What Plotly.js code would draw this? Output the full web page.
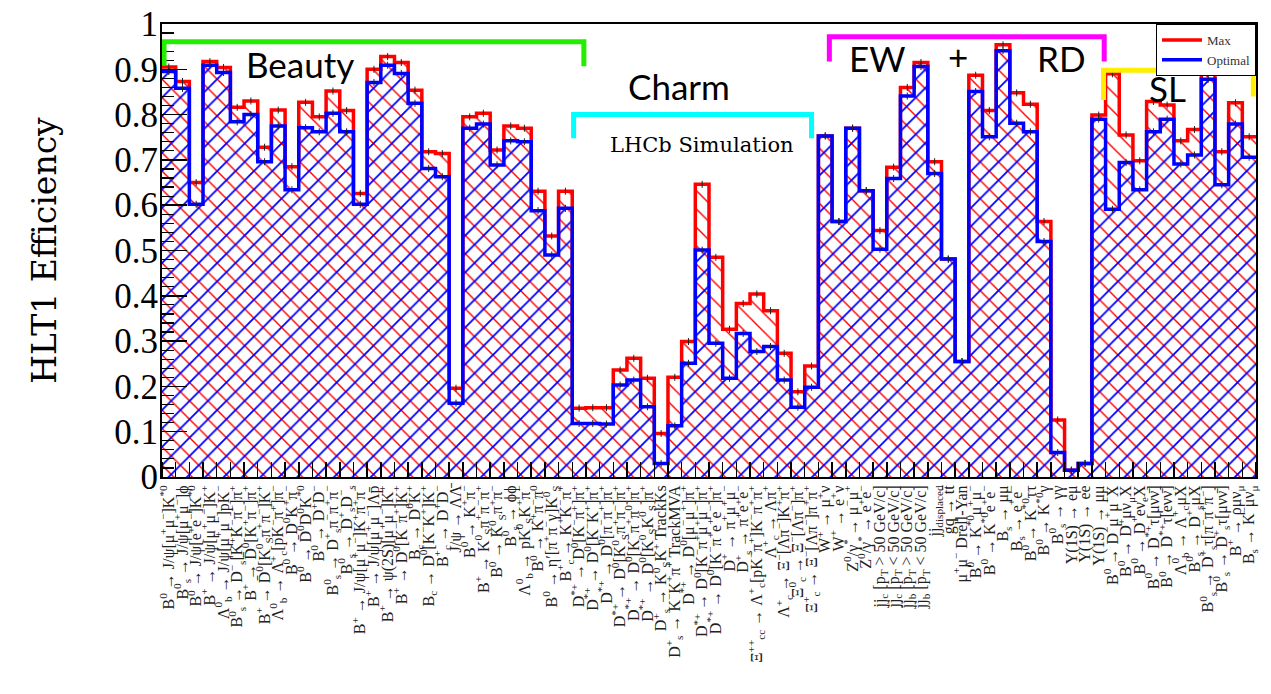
<!DOCTYPE html>
<html><head><meta charset="utf-8">
<script src="https://cdn.plot.ly/plotly-3.0.1.min.js"></script>
<style>html,body{margin:0;padding:0;background:#fff}#chart{width:1271px;height:694px}</style>
</head><body><div id="chart"></div>
<script>
// ---- data ----
const modes = [
 "B<sup>0</sup> → J/ψ[μ<sup>+</sup>μ<sup>−</sup>]K<sup>*0</sup>",
 "B<sup>0</sup><sub>s</sub> → J/ψ[μ<sup>+</sup>μ<sup>−</sup>]ϕ",
 "B<sup>0</sup> → J/ψ[e<sup>+</sup>e<sup>−</sup>]K<sup>*0</sup>",
 "B<sup>+</sup> → J/ψ[μ<sup>+</sup>μ<sup>−</sup>]K<sup>+</sup>",
 "Λ<sup>0</sup><sub>b</sub> → J/ψ[μ<sup>+</sup>μ<sup>−</sup>]pK<sup>−</sup>",
 "B<sup>0</sup><sub>s</sub> → D<sup>−</sup><sub>s</sub>[K<sup>+</sup>K<sup>−</sup>π<sup>−</sup>]π<sup>+</sup>",
 "B<sup>+</sup> → D̄<sup>0</sup>[K<sup>+</sup>π<sup>−</sup>]π<sup>+</sup>",
 "B<sup>+</sup> → D̄<sup>0</sup>[K<sup>0</sup><sub>S</sub>π<sup>+</sup>π<sup>−</sup>]K<sup>+</sup>",
 "Λ<sup>0</sup><sub>b</sub> → Λ<sup>+</sup><sub>c</sub>[pK<sup>−</sup>π<sup>+</sup>]π<sup>−</sup>",
 "B<sup>0</sup> → D<sup>0</sup>K<sup>+</sup>π<sup>−</sup>",
 "B<sup>0</sup> → D̄<sup>0</sup>D<sup>0</sup>K<sup>*0</sup>",
 "B<sup>0</sup> → D<sup>+</sup>D<sup>−</sup>",
 "B<sup>0</sup><sub>s</sub> → D<sup>+</sup><sub>s</sub>π<sup>−</sup>π<sup>+</sup>π<sup>−</sup>",
 "B<sup>0</sup><sub>s</sub> → D<sup>+</sup><sub>s</sub>D<sup>−</sup><sub>s</sub>",
 "B<sup>+</sup> → J/ψ[μ<sup>+</sup>μ<sup>−</sup>]K<sup>+</sup>π<sup>+</sup>π<sup>−</sup>",
 "B<sup>+</sup> → J/ψ[μ<sup>+</sup>μ<sup>−</sup>]Λp̄",
 "B<sup>+</sup> → ψ(2S)[μ<sup>+</sup>μ<sup>−</sup>]K<sup>+</sup>",
 "B<sup>+</sup> → D<sup>0</sup>[K<sup>−</sup>π<sup>+</sup>]K<sup>+</sup>",
 "B<sub>c</sub> → D<sup>0</sup>K<sup>+</sup>",
 "B<sub>c</sub> → D<sup>0</sup>[K<sup>−</sup>K<sup>+</sup>]K<sup>+</sup>",
 "B<sup>+</sup><sub>c</sub> → D<sup>+</sup>D<sup>−</sup>",
 "J/ψ → ΛΛ̄",
 "B<sup>0</sup> → K<sup>+</sup>π<sup>−</sup>",
 "B<sup>+</sup> → K<sup>0</sup><sub>S</sub>π<sup>+</sup>π<sup>−</sup>π<sup>+</sup>",
 "B<sup>0</sup> → K<sup>0</sup><sub>S</sub>π<sup>+</sup>π<sup>−</sup>",
 "B<sup>0</sup><sub>s</sub> → ϕϕ",
 "Λ<sup>0</sup><sub>b</sub> → pK<sup>0</sup><sub>S</sub>K<sup>+</sup>π<sup>−</sup>",
 "B<sup>0</sup> → K<sup>+</sup>π<sup>−</sup>π<sup>0</sup>",
 "B<sup>0</sup> → η′[π<sup>+</sup>π<sup>−</sup>γ]K<sup>0</sup><sub>S</sub>",
 "B<sup>+</sup><sub>c</sub> → K<sup>+</sup>K<sup>−</sup>π<sup>+</sup>",
 "D<sup>*+</sup> → D<sup>0</sup>[K<sup>−</sup>π<sup>+</sup>]π<sup>+</sup>",
 "D<sup>*+</sup> → D<sup>0</sup>[K<sup>−</sup>K<sup>+</sup>]π<sup>+</sup>",
 "D<sup>*+</sup> → D<sup>0</sup>[π<sup>−</sup>π<sup>+</sup>]π<sup>+</sup>",
 "D<sup>*+</sup> → D<sup>0</sup>[K<sup>0</sup><sub>S</sub>π<sup>+</sup>π<sup>−</sup>]π<sup>+</sup>",
 "D<sup>*+</sup> → D<sup>0</sup>[K<sup>−</sup>π<sup>+</sup>π<sup>0</sup>]π<sup>+</sup>",
 "D<sup>*+</sup> → D<sup>0</sup>[K<sup>0</sup><sub>S</sub>K<sup>0</sup><sub>S</sub>]π<sup>+</sup>",
 "D<sup>+</sup><sub>s</sub> → K<sup>0</sup><sub>S</sub>K<sup>+</sup> TrackKs",
 "D<sup>+</sup><sub>s</sub> → K<sup>−</sup>K<sup>+</sup>π<sup>+</sup> TrackMVA",
 "D<sup>*+</sup> → D<sup>0</sup>[μ<sup>−</sup>μ<sup>+</sup>]π<sup>+</sup>",
 "D<sup>*+</sup> → D<sup>0</sup>[K<sup>−</sup>π<sup>+</sup>μ<sup>+</sup>μ<sup>−</sup>]π<sup>+</sup>",
 "D<sup>*+</sup> → D<sup>0</sup>[K<sup>−</sup>π<sup>+</sup>e<sup>+</sup>e<sup>−</sup>]π<sup>+</sup>",
 "D<sup>+</sup> → π<sup>+</sup>μ<sup>+</sup>μ<sup>−</sup>",
 "D<sup>+</sup><sub>s</sub> → π<sup>+</sup>e<sup>+</sup>e<sup>−</sup>",
 "Ξ<sup>++</sup><sub>cc</sub> → Λ<sup>+</sup><sub>c</sub>[pK<sup>−</sup>π<sup>+</sup>]K<sup>−</sup>π<sup>+</sup>π<sup>+</sup>",
 "Λ<sup>+</sup><sub>c</sub> → Λπ<sup>+</sup>",
 "Λ<sup>+</sup><sub>c</sub> → Ξ<sup>−</sup>[Λπ<sup>−</sup>]K<sup>+</sup>π<sup>+</sup>",
 "Ξ<sup>0</sup><sub>c</sub> → Ξ<sup>−</sup>[Λπ<sup>−</sup>]π<sup>+</sup>",
 "Ξ<sup>+</sup><sub>c</sub> → Ξ<sup>−</sup>[Λπ<sup>−</sup>]π<sup>+</sup>π<sup>+</sup>",
 "W<sup>+</sup> → μ<sup>+</sup>ν",
 "W<sup>+</sup> → e<sup>+</sup>ν",
 "Z<sup>0</sup>/γ<sup>*</sup> → μ<sup>−</sup>μ<sup>+</sup>",
 "Z<sup>0</sup>/γ<sup>*</sup> → e<sup>+</sup>e<sup>−</sup>",
 "jj<sub>c</sub> [p<sub>T</sub> > 50 GeV/c]",
 "jj<sub>c</sub> [p<sub>T</sub> < 50 GeV/c]",
 "jj<sub>b</sub> [p<sub>T</sub> > 50 GeV/c]",
 "jj<sub>b</sub> [p<sub>T</sub> < 50 GeV/c]",
 "jj<sub>displaced</sub>",
 "gq → tt̄",
 "μ<sup>+</sup>μ<sup>−</sup> Drell-Yan",
 "B<sup>0</sup> → K<sup>*0</sup>μ<sup>+</sup>μ<sup>−</sup>",
 "B<sup>0</sup> → K<sup>*0</sup>e<sup>+</sup>e<sup>−</sup>",
 "B<sub>s</sub> → μμ",
 "B<sub>s</sub> → e<sup>+</sup>e<sup>−</sup>",
 "B<sup>0</sup> → K<sup>*0</sup>ττ",
 "B<sup>0</sup> → K<sup>*0</sup>γ",
 "B<sup>0</sup><sub>s</sub> → γγ",
 "Υ(1S) → eμ",
 "Υ(1S) → ee",
 "Υ(1S) → μμ",
 "B<sup>0</sup> → D<sup>−</sup>μ<sup>+</sup>μ<sup>−</sup>X",
 "B<sup>0</sup> → D<sup>+</sup>μν<sub>μ</sub>X",
 "B<sup>0</sup> → D<sup>+</sup>eν<sub>e</sub>X",
 "B<sup>0</sup> → D<sup>*+</sup>τ[μνν̄]",
 "B<sup>0</sup> → D<sup>*+</sup>τ[eνν̄]",
 "Λ<sup>0</sup><sub>b</sub> → Λ<sup>+</sup><sub>c</sub>μX",
 "B<sup>0</sup><sub>s</sub> → D<sup>+</sup><sub>s</sub>μX",
 "B<sup>0</sup><sub>s</sub> → D<sup>+</sup><sub>s</sub>τ[π<sup>−</sup>π<sup>+</sup>π<sup>−</sup>]",
 "B<sup>0</sup><sub>s</sub> → D<sup>+</sup><sub>s</sub>τ[μνν̄]",
 "B<sup>+</sup> → ρμν<sub>μ</sub>",
 "B<sub>s</sub> → K<sup>−</sup>μν<sub>μ</sub>"
];
const maxEff = [0.905,0.873,0.650,0.917,0.904,0.816,0.830,0.728,0.810,0.685,
 0.827,0.795,0.852,0.809,0.626,0.900,0.928,0.915,0.854,0.718,
 0.714,0.196,0.795,0.803,0.722,0.775,0.770,0.631,0.532,0.631,
 0.152,0.153,0.153,0.236,0.262,0.218,0.096,0.220,0.299,0.646,
 0.485,0.326,0.383,0.404,0.367,0.273,0.188,0.245,0.753,0.564,
 0.770,0.632,0.544,0.684,0.860,0.915,0.696,0.481,0.255,0.887,
 0.809,0.954,0.848,0.823,0.564,0.126,0.015,0.030,0.799,0.890,
 0.755,0.698,0.829,0.821,0.742,0.767,0.906,0.718,0.826,0.751];
const optEff = [0.895,0.858,0.602,0.909,0.893,0.784,0.800,0.696,0.775,0.634,
 0.771,0.762,0.803,0.762,0.602,0.871,0.909,0.891,0.825,0.681,
 0.663,0.163,0.770,0.779,0.689,0.742,0.740,0.588,0.490,0.593,
 0.118,0.118,0.117,0.203,0.214,0.155,0.030,0.113,0.251,0.501,
 0.295,0.218,0.317,0.277,0.288,0.214,0.154,0.198,0.753,0.564,
 0.770,0.632,0.503,0.659,0.841,0.906,0.670,0.481,0.255,0.851,
 0.751,0.941,0.781,0.762,0.520,0.054,0.015,0.030,0.790,0.591,
 0.694,0.634,0.762,0.790,0.691,0.711,0.878,0.645,0.779,0.706];
const seriesNames = ["Max", "Optimal"];
const groupNames = ["Beauty", "Charm", "EW", "+", "RD", "SL", "LHCb Simulation"];

// ---- derived ----
const centers = modes.map((_, i) => i + 0.5);
const edges = modes.map((_, i) => i).concat([modes.length]);
const stepY = arr => arr.concat([arr[arr.length - 1]]);

const RED = '#ff0000', BLUE = '#0000ff';
const serif = 'Liberation Serif, DejaVu Serif, serif';
const wideSerif = 'DejaVu Serif, Liberation Serif, serif';
const sans = 'Lato, Open Sans, sans-serif';

const traces = [
  {type:'bar', x:centers, y:maxEff, width:1, showlegend:false, hoverinfo:'skip',
   marker:{color:'rgba(0,0,0,0)', line:{width:0},
     pattern:{shape:'\\', fgcolor:RED, bgcolor:'rgba(0,0,0,0)', size:13, solidity:0.11, fillmode:'replace'}}},
  {type:'bar', x:centers, y:optEff, width:1, showlegend:false, hoverinfo:'skip',
   marker:{color:'rgba(0,0,0,0)', line:{width:0},
     pattern:{shape:'/', fgcolor:BLUE, bgcolor:'rgba(0,0,0,0)', size:13, solidity:0.14, fillmode:'replace'}}},
  {type:'scatter', mode:'lines', name:seriesNames[0], x:edges, y:stepY(maxEff),
   line:{shape:'hv', color:RED, width:3.5}},
  {type:'scatter', mode:'lines', name:seriesNames[1], x:edges, y:stepY(optEff),
   line:{shape:'hv', color:BLUE, width:3.5}},
  {type:'scatter', mode:'markers', x:centers, y:maxEff, showlegend:false, hoverinfo:'skip',
   marker:{symbol:'line-ns', size:5, line:{color:'#222', width:1}}},
  {type:'scatter', mode:'markers', x:centers, y:optEff, showlegend:false, hoverinfo:'skip',
   marker:{symbol:'line-ns', size:5, line:{color:'#222', width:1}}}
];

function bracket(x0, x1, y, yl, yr, color) {
  return {type:'path', xref:'x', yref:'y', layer:'above',
    path:`M${x0},${yl} L${x0},${y} L${x1},${y} L${x1},${yr}`,
    line:{color:color, width:5}};
}

const layout = {
  width:1271, height:694,
  margin:{l:162, r:15, t:24, b:217},
  paper_bgcolor:'#fff', plot_bgcolor:'#fff',
  barmode:'overlay', bargap:0,
  showlegend:true,
  legend:{x:1, y:1, xanchor:'right', yanchor:'top', bgcolor:'#fff',
    bordercolor:'#000', borderwidth:1, font:{family:serif, size:13, color:'#333'},
    itemwidth:40, tracegroupgap:0},
  xaxis:{range:[0, modes.length], tickmode:'array', tickvals:centers, ticktext:modes,
    tickangle:-90, ticks:'', tickfont:{family:serif, size:16, color:'#222'},
    showgrid:false, zeroline:false, showline:true, linecolor:'#000', linewidth:2, mirror:true,
    minor:{ticks:'inside', ticklen:15, tickwidth:1.5, tickcolor:'#000', tick0:0, dtick:1, showgrid:false},
    automargin:false, fixedrange:true},
  yaxis:{range:[0,1], tick0:0, dtick:0.1, ticks:'inside', ticklen:25, tickwidth:1.5, tickcolor:'#000',
    tickfont:{family:serif, size:35, color:'#000'}, ticklabelstandoff:-5,
    minor:{ticks:'inside', ticklen:12, tickwidth:1.2, tickcolor:'#000', dtick:0.02, showgrid:false},
    showgrid:false, zeroline:false, showline:true, linecolor:'#000', linewidth:2, mirror:true,
    title:{text:'HLT1 Efficiency', font:{family:wideSerif, size:33, color:'#000'}, standoff:48},
    automargin:false, fixedrange:true},
  shapes:[
    bracket(0.15, 30.85, 0.961, 0.909, 0.907, '#22ee00'),
    bracket(30.1, 47.5, 0.800, 0.748, 0.748, '#00ffff'),
    bracket(48.8, 68.9, 0.972, 0.917, 0.917, '#ff00ff'),
    bracket(68.85, 79.8, 0.898, 0.832, 0.840, '#ffee00')
  ],
  annotations:[
    {text:groupNames[0], x:10.1, y:0.912, font:{family:sans, size:35, color:'#000'}},
    {text:groupNames[1], x:37.8, y:0.863, font:{family:sans, size:35, color:'#000'}},
    {text:groupNames[2], x:52.3, y:0.925, font:{family:sans, size:35, color:'#000'}},
    {text:groupNames[3], x:58.2, y:0.930, font:{family:sans, size:35, color:'#000'}},
    {text:groupNames[4], x:65.8, y:0.925, font:{family:sans, size:35, color:'#000'}},
    {text:groupNames[5], x:73.5, y:0.859, font:{family:sans, size:35, color:'#000'}},
    {text:groupNames[6], x:39.5, y:0.733, font:{family:wideSerif, size:21, color:'#000'}}
  ].map(a => Object.assign({xref:'x', yref:'y', showarrow:false, xanchor:'center', yanchor:'middle'}, a))
};

Plotly.newPlot('chart', traces, layout, {displayModeBar:false, staticPlot:true});
</script>
</body></html>
